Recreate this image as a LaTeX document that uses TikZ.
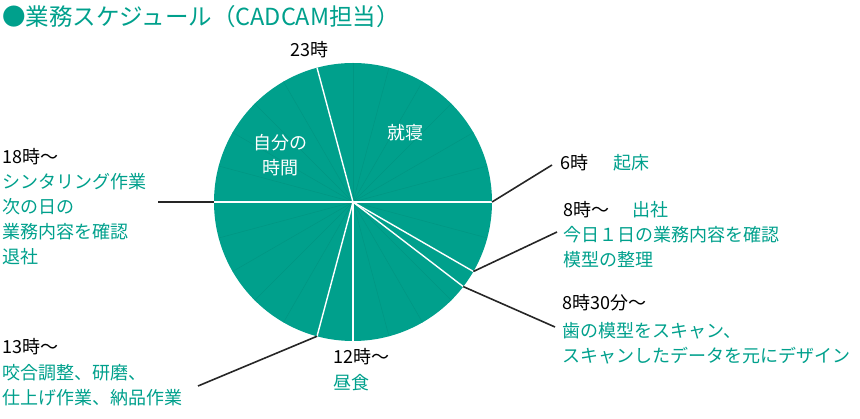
\documentclass[tikz,border=0pt]{standalone}
\usepackage{fontspec}
\setmainfont{Noto Sans CJK JP}
\usetikzlibrary{calc}
\definecolor{teal1}{RGB}{0,160,140}
\definecolor{teal2}{RGB}{0,150,131}
\begin{document}
\begin{tikzpicture}[x=1pt,y=-1pt,font=\fontsize{18}{25}\selectfont]
        \useasboundingbox (0,0) rectangle (860,419);
        \tikzset{time/.style={anchor=west,inner sep=0pt,text=black},
                 task/.style={anchor=west,inner sep=0pt,text=teal1,align=left},
                 lead/.style={draw=black!85,line width=1.6pt}}
        \node[anchor=west,inner sep=0pt,text=teal1,font=\fontsize{23.5}{26}\selectfont] (title) at (2,17) {●業務スケジュール（CADCAM担当）};
        % pie
        \coordinate (c) at (353,202);
        \fill[teal1] (c) circle[radius=139];
        \foreach \h in {1,...,24}
            \draw[teal2,line width=0.5pt] (c) -- ($(c)+({90-15*\h}:139)$);
        \foreach \h/\n in {23/23,6/6,8/8,8.5/85,12/12,13/13,18/18}
            \draw[white,line width=1.4pt] (c) -- ($(c)+({-(90-15*\h)}:139)$) coordinate (e\n);
        \node[text=white] (sleep) at (405,133) {就寝};
        \node[text=white,align=center] (free) at (280,155) {自分の\\時間};
        % labels
        \begin{scope}[every node/.style={time}]
            \node (t23) at (290,50) {23時};
            \node (t6) at (560,163) {6時};
            \node (t8) at (563,210) {8時〜};
            \node (t85) at (562,303) {8時30分〜};
            \node (t12) at (333,357) {12時〜};
            \node (t13) at (2,347) {13時〜};
            \node (t18) at (2,157) {18時〜};
        \end{scope}
        \begin{scope}[every node/.style={task}]
            \node (d6) at (613,163) {起床};
            \node (d8) at (632,210) {出社};
            \node (d8b) at (563,247) {今日１日の業務内容を確認\\模型の整理};
            \node (d85) at (562,343) {歯の模型をスキャン、\\スキャンしたデータを元にデザイン};
            \node (d12) at (333,383) {昼食};
            \node (d13) at (2,385) {咬合調整、研磨、\\仕上げ作業、納品作業};
            \node (d18) at (2,219) {シンタリング作業\\次の日の\\業務内容を確認\\退社};
        \end{scope}
        \coordinate (k6) at (552,165);
        \coordinate (k8) at (557,232);
        \coordinate (k85) at (555,327);
        \coordinate (k13) at (198,386);
        \coordinate (k18) at (158,202);
        \path[lead] (e6) -- (k6);
        \path[lead] (e8) -- (k8);
        \path[lead] (e85) -- (k85);
        \path[lead] (e13) -- (k13);
        \path[lead] (e18) -- (k18);
    \end{tikzpicture}
\end{document}
